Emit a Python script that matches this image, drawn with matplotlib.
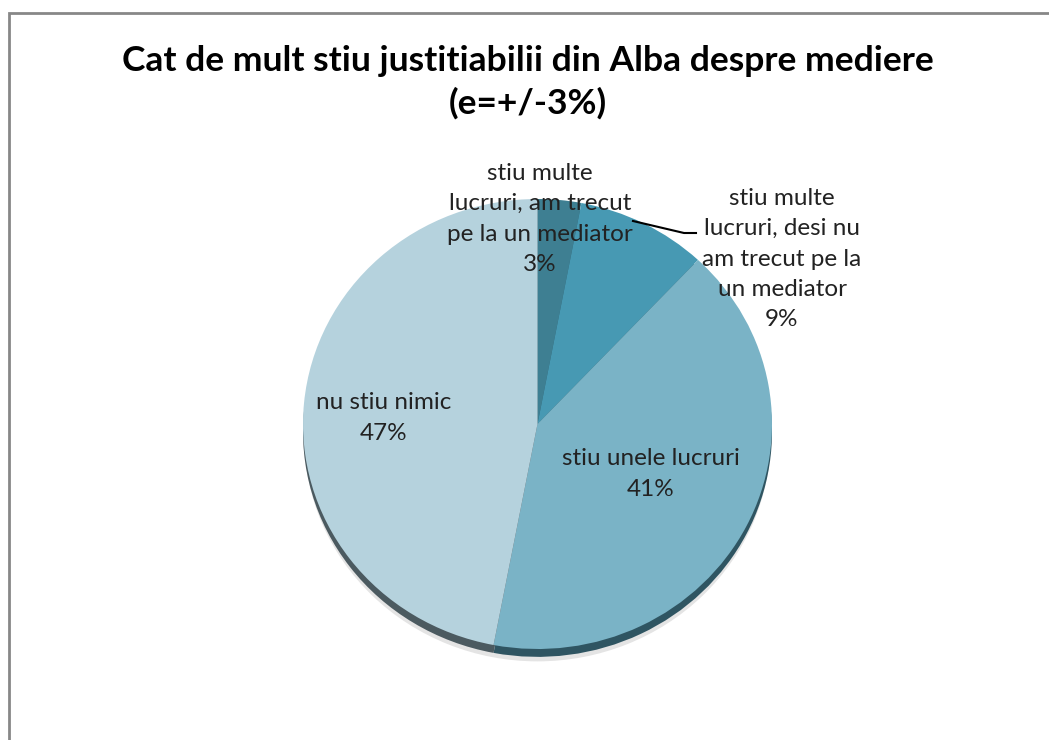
import matplotlib.pyplot as plt
from matplotlib.patches import Rectangle

labels = ['stiu multe\nlucruri, am trecut\npe la un mediator',
          'stiu multe\nlucruri, desi nu\nam trecut pe la\nun mediator',
          'stiu unele lucruri',
          'nu stiu nimic']
values = [3, 9, 41, 47]
colors = ['#3e7f92', '#4799b3', '#7ab3c6', '#b5d2dd']
rim_colors = ['#2c5561', '#2d5e6d', '#2f5562', '#4b5a60']

plt.rcParams['font.family'] = ['Lato', 'DejaVu Sans']

W, H = 1049, 740
fig = plt.figure(figsize=(W / 100, H / 100), dpi=100)

# pie centre / radii in pixels
cx, cy, rx, ry = 537.5, 424, 234.5, 225

ax = fig.add_axes([0, 0, 1, 1])
# soft shadow + dark rim for the 3d look
ax.pie([1], colors=['#e4e4e4'], startangle=90, center=(0.0, -0.06), radius=0.995,
       wedgeprops=dict(linewidth=0))
ax.pie(values, colors=rim_colors, startangle=90, counterclock=False,
       center=(0, -0.035), wedgeprops=dict(linewidth=0))
ax.pie(values, colors=colors, startangle=90, counterclock=False,
       wedgeprops=dict(linewidth=0))
ax.set_aspect('auto')
ax.set_xlim(-cx / rx, (W - cx) / rx)
ax.set_ylim(-(H - cy) / ry, cy / ry)
ax.axis('off')

def px(x, y):
    return x / W, 1 - y / H

tkw = dict(ha='center', va='center', fontsize=17.5, color='#222222', linespacing=1.55)
fig.text(*px(540, 219), labels[0] + '\n%d%%' % values[0], **tkw)
fig.text(*px(782, 259), labels[1] + '\n%d%%' % values[1], **tkw)
fig.text(*px(651, 474), labels[2] + '\n%d%%' % values[2], **tkw)
fig.text(*px(384, 418), labels[3] + '\n%d%%' % values[3], **tkw)

# leader line for the 9% label
xs = [633 / W, 684 / W, 696 / W]
ys = [1 - 221 / H, 1 - 233 / H, 1 - 233 / H]
fig.add_artist(plt.Line2D(xs, ys, color='black', linewidth=1.5))

fig.text(*px(528, 82), 'Cat de mult stiu justitiabilii din Alba despre mediere\n(e=+/-3%)',
         ha='center', va='center', fontsize=25.5, fontweight='bold', color='black',
         linespacing=1.36)

fig.add_artist(Rectangle((9 / W, -0.1), 1.2, 1.1 - 13 / H, transform=fig.transFigure,
                         fill=False, edgecolor='#878787', linewidth=2))

fig.savefig('out.png', dpi=100)
